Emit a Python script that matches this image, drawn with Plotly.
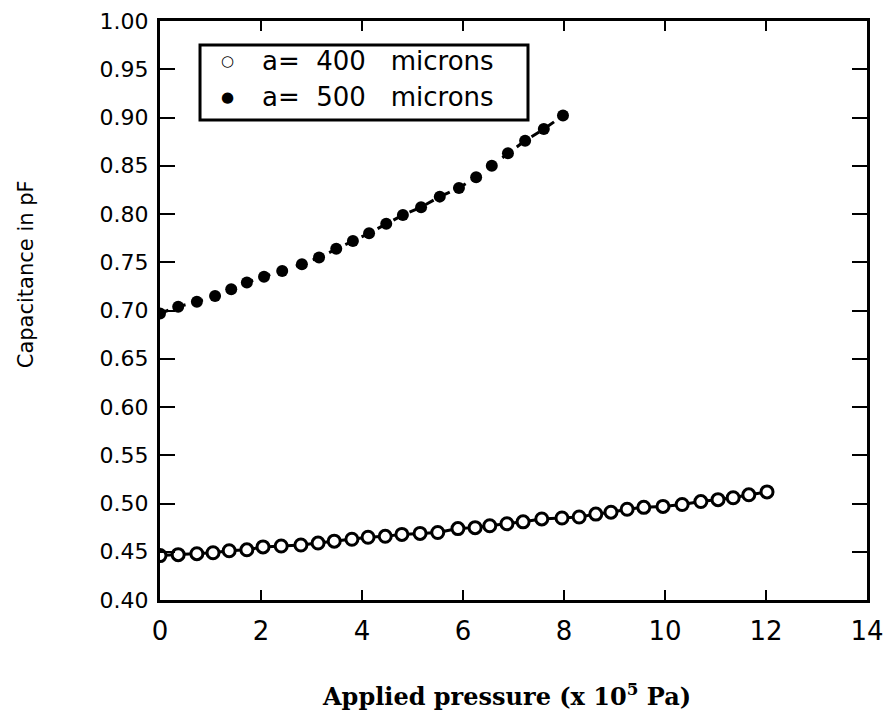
import plotly.graph_objects as go

# a = 400 microns (open circles, solid line)
x_400 = [0.00, 0.36, 0.73, 1.05, 1.37, 1.72, 2.04, 2.40, 2.79, 3.13, 3.45, 3.80,
         4.12, 4.46, 4.79, 5.15, 5.50, 5.90, 6.24, 6.53, 6.87, 7.19, 7.56, 7.96,
         8.30, 8.63, 8.93, 9.25, 9.58, 9.96, 10.34, 10.71, 11.05, 11.35, 11.66, 12.02]
c_400 = [0.446, 0.447, 0.448, 0.449, 0.451, 0.452, 0.455, 0.456, 0.457, 0.459, 0.461, 0.463,
         0.465, 0.466, 0.468, 0.469, 0.470, 0.474, 0.475, 0.477, 0.479, 0.481, 0.484, 0.485,
         0.486, 0.489, 0.491, 0.494, 0.496, 0.497, 0.499, 0.502, 0.504, 0.506, 0.509, 0.512]

# a = 500 microns (filled circles, dashed line)
x_500 = [0.00, 0.36, 0.73, 1.09, 1.41, 1.72, 2.06, 2.42, 2.81, 3.15, 3.49, 3.82,
         4.14, 4.48, 4.81, 5.17, 5.54, 5.92, 6.26, 6.57, 6.89, 7.23, 7.60, 7.98]
c_500 = [0.697, 0.704, 0.709, 0.715, 0.722, 0.729, 0.735, 0.741, 0.748, 0.755, 0.764, 0.772,
         0.780, 0.790, 0.799, 0.807, 0.818, 0.827, 0.838, 0.850, 0.863, 0.876, 0.888, 0.902]

x_ticks = [0, 2, 4, 6, 8, 10, 12, 14]
y_ticks = [0.40, 0.45, 0.50, 0.55, 0.60, 0.65, 0.70, 0.75, 0.80, 0.85, 0.90, 0.95, 1.00]
y_tick_text = ["%.2f" % v for v in y_ticks]

legend_names = ["a=  400   microns", "a=  500   microns"]

# page body has an 8px default margin; compensate so the figure fills the window
W, H = 883, 719

fig = go.Figure()

fig.add_trace(go.Scatter(
    x=x_400, y=c_400, mode="lines+markers", showlegend=False,
    line=dict(color="black", width=3),
    marker=dict(symbol="circle", size=12, color="white", line=dict(color="black", width=3)),
))
fig.add_trace(go.Scatter(
    x=x_500, y=c_500, mode="lines+markers", showlegend=False,
    line=dict(color="black", width=3, dash="dash"),
    marker=dict(symbol="circle", size=12, color="black"),
))

# legend box drawn by hand (like the original)
lx0, lx1, ly0, ly1 = 0.0566, 0.5205, 0.829, 0.9585
fig.add_shape(type="rect", xref="paper", yref="paper", x0=lx0, x1=lx1, y0=ly0, y1=ly1,
              line=dict(color="black", width=3), fillcolor="white", layer="above")

legend_syms = ["<b>○</b>", "●"]
legend_sym_sizes = [15, 15]
legend_rows = [0.931, 0.869]
annotations = []
for sym, ssz, name, yy in zip(legend_syms, legend_sym_sizes, legend_names, legend_rows):
    annotations.append(dict(text=sym, xref="paper", yref="paper", x=0.0948, y=yy,
                            xanchor="center", yanchor="middle", showarrow=False,
                            font=dict(size=ssz, family="DejaVu Sans", color="black")))
    annotations.append(dict(text=name, xref="paper", yref="paper", x=0.1414, y=yy,
                            xanchor="left", yanchor="middle", showarrow=False,
                            font=dict(size=26, family="DejaVu Sans", color="black")))

annotations.append(dict(text="Capacitance in pF", xref="paper", yref="paper",
                        x=-0.19, y=0.562, textangle=-90, showarrow=False,
                        xanchor="center", yanchor="middle",
                        font=dict(size=21, family="DejaVu Sans", color="black")))
annotations.append(dict(text="<b>Applied pressure (x 10<sup>5</sup> Pa)</b>", xref="paper", yref="paper",
                        x=0.49, y=-0.164, showarrow=False, xanchor="center", yanchor="middle",
                        font=dict(size=24, family="DejaVu Serif", color="black")))

fig.update_layout(
    width=W, height=H,
    margin=dict(l=152, r=24, t=13, b=127, autoexpand=False),
    paper_bgcolor="white", plot_bgcolor="white",
    font=dict(family="DejaVu Sans", color="black"),
    showlegend=False,
    annotations=annotations,
)

fig.update_xaxes(
    range=[0, 14], tickvals=x_ticks, ticktext=[str(v) for v in x_ticks],
    showgrid=False, zeroline=False, automargin=False, ticklabeloverflow="allow",
    showline=True, linewidth=3, linecolor="black", mirror="ticks",
    ticks="inside", ticklen=10, tickwidth=2, tickcolor="black",
    ticklabelstandoff=6,
    tickfont=dict(size=26, family="DejaVu Sans", color="black"),
)
fig.update_yaxes(
    range=[0.40, 1.00], tickvals=y_ticks, ticktext=y_tick_text,
    showgrid=False, zeroline=False, automargin=False, ticklabeloverflow="allow",
    showline=True, linewidth=3, linecolor="black", mirror="ticks",
    ticks="inside", ticklen=15, tickwidth=2, tickcolor="black",
    ticklabelstandoff=4,
    tickfont=dict(size=22, family="DejaVu Sans", color="black"),
)

fig.write_html("out.html")
